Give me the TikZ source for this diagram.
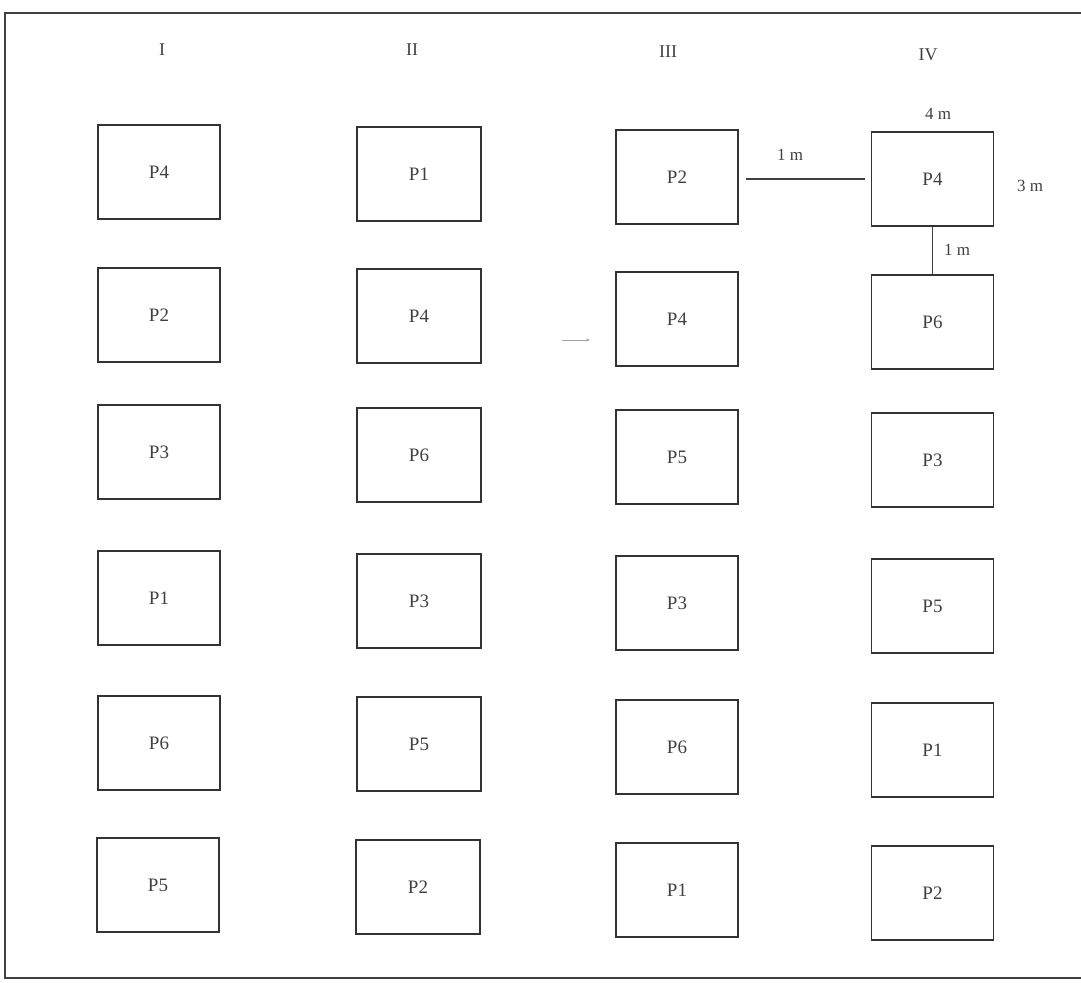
\documentclass[tikz,border=0pt]{standalone}
\usepackage{fontspec}
\setmainfont{Liberation Serif}
\usetikzlibrary{arrows.meta}
\begin{document}
\begin{tikzpicture}[x=1pt,y=-1pt,
  pbox/.style={draw=black!80,line width=1.5pt,minimum width=122pt,minimum height=94pt,inner sep=0pt,text=black!75,font=\fontsize{19}{22}\selectfont},
  hdr/.style={text=black!75,font=\fontsize{18}{20}\selectfont},
  dim/.style={text=black!75,font=\fontsize{17}{19}\selectfont},
  link/.style={draw=black!75,line width=1.2pt}]
\useasboundingbox (0,0) rectangle (1081,982);
\draw[black!75,line width=1.6pt] (1081,13) -- (5,13) -- (5,978) -- (1081,978);
% headers
\node[hdr] (h1) at (162,50) {I};
\node[hdr] (h2) at (412,50) {II};
\node[hdr] (h3) at (668,52) {III};
\node[hdr] (h4) at (928,55) {IV};
% column I
\node[pbox] (a1) at (159,172) {P4};
\node[pbox] (a2) at (159,315) {P2};
\node[pbox] (a3) at (159,452) {P3};
\node[pbox] (a4) at (159,598) {P1};
\node[pbox] (a5) at (159,743) {P6};
\node[pbox] (a6) at (158,885) {P5};
% column II
\node[pbox,minimum width=124pt] (b1) at (419,174) {P1};
\node[pbox,minimum width=124pt] (b2) at (419,316) {P4};
\node[pbox,minimum width=124pt] (b3) at (419,455) {P6};
\node[pbox,minimum width=124pt] (b4) at (419,601) {P3};
\node[pbox,minimum width=124pt] (b5) at (419,744) {P5};
\node[pbox,minimum width=124pt] (b6) at (418,887) {P2};
% column III
\node[pbox] (c1) at (677,177) {P2};
\node[pbox] (c2) at (677,319) {P4};
\node[pbox] (c3) at (677,457) {P5};
\node[pbox] (c4) at (677,603) {P3};
\node[pbox] (c5) at (677,747) {P6};
\node[pbox] (c6) at (677,890) {P1};
% column IV
\node[pbox] (d1) at (932.5,179) {P4};
\node[pbox] (d2) at (932.5,322) {P6};
\node[pbox] (d3) at (932.5,460) {P3};
\node[pbox] (d4) at (932.5,606) {P5};
\node[pbox] (d5) at (932.5,750) {P1};
\node[pbox] (d6) at (932.5,893) {P2};
% connectors
\draw[link,shorten <=7pt,shorten >=6pt] (c1.east |- d1.west) -- (d1.west);
\draw[link] (d1.south) -- (d2.north);
% dimension labels
\node[dim] (l1) at (790,155) {1 m};
\node[dim] (l2) at (938,114) {4 m};
\node[dim] (l3) at (1030,186) {3 m};
\node[dim] (l4) at (957,250) {1 m};
% faint arrow mark
\coordinate (m1) at (562,340);
\coordinate (m2) at (590,340);
\draw[black!35,line width=0.8pt,-{Stealth[length=4pt]}] (m1) -- (m2);
\end{tikzpicture}
\end{document}
